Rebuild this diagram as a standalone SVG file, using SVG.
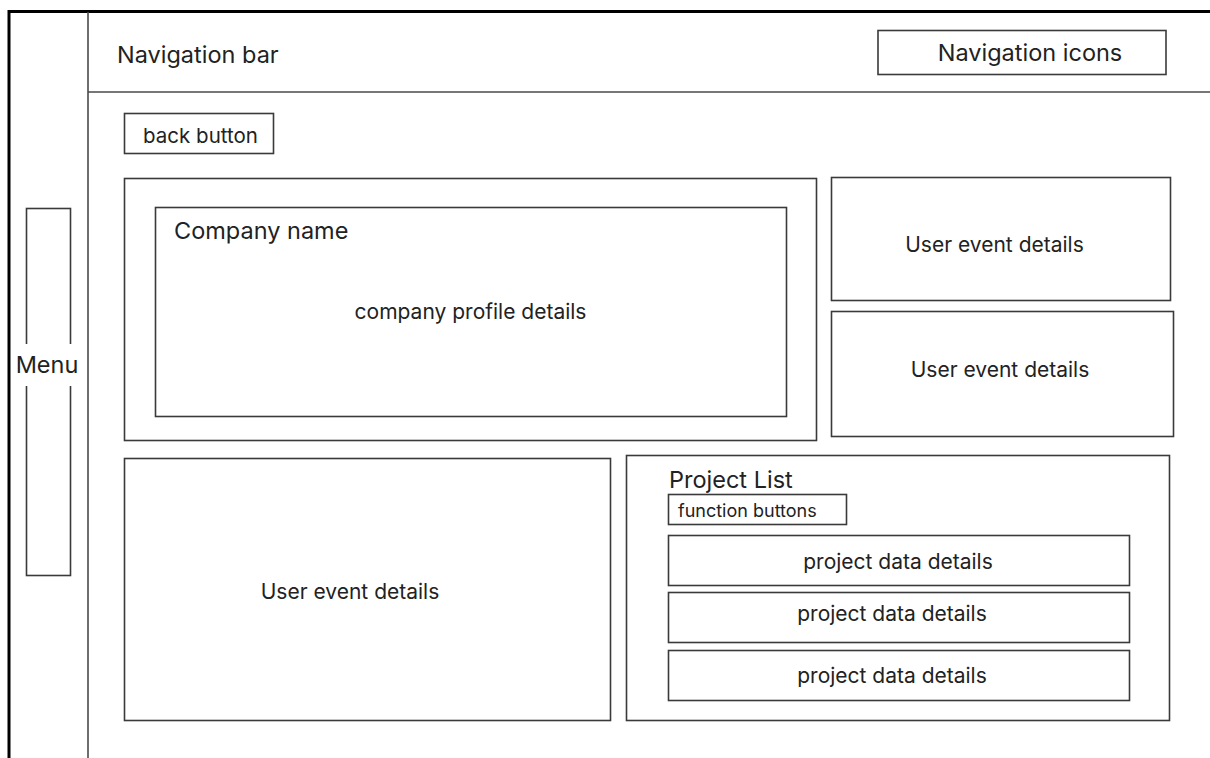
<svg xmlns="http://www.w3.org/2000/svg" width="1210" height="758" viewBox="0 0 1210 758">
  <style>
    .box { fill: #ffffff; stroke: #3a3a3a; stroke-width: 1.6; }
    .rule { fill: none; stroke: #4a4a4a; stroke-width: 1.6; }
    .frame { fill: none; stroke: #000000; stroke-width: 3; }
    text { font-family: Inter, "Noto Sans", "Liberation Sans", sans-serif; fill: #222222; }
    .mid { text-anchor: middle; }
    .title { font-size: 23.5px; }
    .label { font-size: 21px; }
  </style>
  <rect width="1210" height="758" fill="#ffffff"/>

  <!-- page frame and layout rules -->
  <g id="frame">
    <path class="frame" d="M9,758 V11.5 H1210"/>
    <path class="rule" d="M88,12 V758"/>
    <path class="rule" d="M88,92 H1210"/>
  </g>

  <g id="navigation-bar">
    <text class="title" x="117" y="62.5">Navigation bar</text>
  </g>

  <g id="navigation-icons">
    <rect class="box" x="878" y="30.5" width="288" height="44"/>
    <text class="mid title" x="1030" y="61">Navigation icons</text>
  </g>

  <g id="menu">
    <rect class="box" x="26.5" y="208.5" width="44" height="367"/>
    <rect x="14" y="344" width="66" height="42" fill="#ffffff"/>
    <text class="mid title" x="47" y="373">Menu</text>
  </g>

  <g id="back-button">
    <rect class="box" x="124.5" y="113.5" width="149" height="40"/>
    <text class="mid" x="200.5" y="143" font-size="20.5">back button</text>
  </g>

  <g id="company-profile">
    <rect class="box" x="124.5" y="178.5" width="692" height="262"/>
    <rect class="box" x="155.5" y="207.5" width="631" height="209"/>
    <text class="title" x="174" y="239">Company name</text>
    <text class="mid label" x="470.5" y="318.5">company profile details</text>
  </g>

  <g id="user-event-1">
    <rect class="box" x="831.5" y="177.5" width="339" height="123"/>
    <text class="mid label" x="994.5" y="252">User event details</text>
  </g>

  <g id="user-event-2">
    <rect class="box" x="831.5" y="311.5" width="342" height="125"/>
    <text class="mid label" x="1000" y="377">User event details</text>
  </g>

  <g id="user-event-3">
    <rect class="box" x="124.5" y="458.5" width="486" height="262"/>
    <text class="mid label" x="350" y="599">User event details</text>
  </g>

  <g id="project-list">
    <rect class="box" x="626.5" y="455.5" width="543" height="265"/>
    <text class="title" x="669" y="488">Project List</text>
    <rect class="box" x="668.5" y="494.5" width="178" height="30"/>
    <text x="678" y="516.5" font-size="18">function buttons</text>
    <rect class="box" x="668.5" y="535.5" width="461" height="50"/>
    <text class="mid label" x="898" y="569">project data details</text>
    <rect class="box" x="668.5" y="592.5" width="461" height="50"/>
    <text class="mid label" x="892" y="621">project data details</text>
    <rect class="box" x="668.5" y="650.5" width="461" height="50"/>
    <text class="mid label" x="892" y="683">project data details</text>
  </g>

  <g id="connectors"></g>
</svg>
